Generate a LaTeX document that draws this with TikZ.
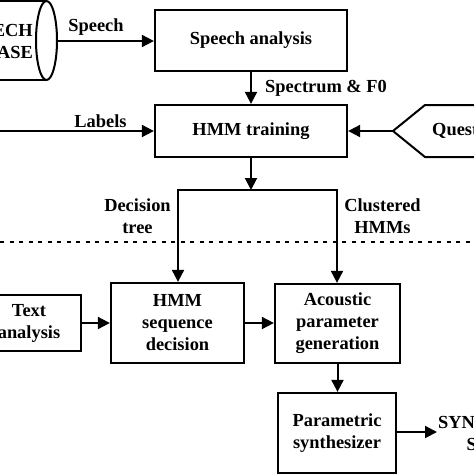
\documentclass[tikz,border=0pt]{standalone}
\usepackage{fontspec}
\setmainfont{Liberation Serif}
\usetikzlibrary{arrows.meta}
\begin{document}
\begin{tikzpicture}[x=1pt,y=-1pt,
  every node/.style={font=\fontsize{18.4}{22}\selectfont\bfseries, inner sep=0pt},
  box/.style={draw, line width=2.3pt, align=center},
  conn/.style={line width=2pt, -{Triangle[length=12pt,width=12pt]}},
  bothconn/.style={line width=2pt, line join=miter, {Triangle[length=12pt,width=12pt]}-{Triangle[length=12pt,width=12pt]}},
  plain/.style={line width=2pt, line join=miter},
  lbl/.style={align=center}
]
\useasboundingbox (0,0) rectangle (474,474);
\clip (0,0) rectangle (474,474);

% boxes
\node[box, minimum width=192pt, minimum height=61pt] (sa) at (251,40.5) {Speech analysis};
\node[box, minimum width=192pt, minimum height=52pt] (hmm) at (251,131) {HMM training};
\node[box, minimum width=133pt, minimum height=80pt] (seq) at (177.5,323) {HMM\\sequence\\decision};
\node[box, minimum width=125pt, minimum height=79pt] (ac) at (337.5,323.5) {Acoustic\\parameter\\generation};
\node[box, minimum width=118pt, minimum height=80pt] (ps) at (337,433) {Parametric\\synthesizer};
\node[box, minimum width=104pt, minimum height=56pt] (ta) at (29,323) {Text\\analysis};

% database cylinder
\draw[plain] (-60,1) -- (46.5,1);
\draw[plain] (-60,80) -- (46.5,80);
\draw[plain] (46.5,40.5) ellipse [x radius=10.5pt, y radius=39.5pt];
\node[align=right, anchor=east] (db) at (33,41) {SPEECH\\DATABASE};
\coordinate (dbr) at (57,41);
\draw[conn] (dbr) -- (sa.west |- dbr);
\node[lbl] (lspeech) at (96,27) {Speech};

% labels input
\coordinate (lin) at (-5,131);
\draw[conn] (lin) -- (hmm.west);
\node[lbl] (llabels) at (100.5,121) {Labels};

% speech analysis -> HMM training
\draw[conn] (sa.south) -- (hmm.north);
\node[anchor=west] (lspec) at (265,88) {Spectrum \& F0};

% questions
\draw[plain] (500,105) -- (425,105) -- (393,131) -- (425,157) -- (500,157);
\coordinate (qtip) at (393,131);
\node[anchor=west] (q) at (432,131) {Questions};
\draw[conn] (qtip) -- (hmm.east);

% junction
\coordinate (jn) at (251,190);
\coordinate (jl) at (178,190);
\coordinate (jr) at (337,190);
\draw[conn] (hmm.south) -- (jn);
\draw[bothconn] (jl |- seq.north) -- (jl) -- (jr) -- (jr |- ac.north);
\node[lbl] (ldt) at (137.5,216.5) {Decision\\tree};
\node[lbl] (lch) at (382.5,216.5) {Clustered\\HMMs};

% dotted separator
\draw[line width=2pt, dash pattern=on 4pt off 5.5pt] (0,242) -- (474,242);

% synthesis part
\draw[conn] (ta.east) -- (seq.west |- ta.east);
\draw[conn] (seq.east) -- (ac.west |- seq.east);
\draw[conn] (ac.south) -- (ac.south |- ps.north);
\coordinate (outp) at (437,432);
\draw[conn] (ps.east |- outp) -- (outp);
\node[lbl] (syn) at (503.5,433) {SYNTHESIZED\\SPEECH};
\end{tikzpicture}
\end{document}
